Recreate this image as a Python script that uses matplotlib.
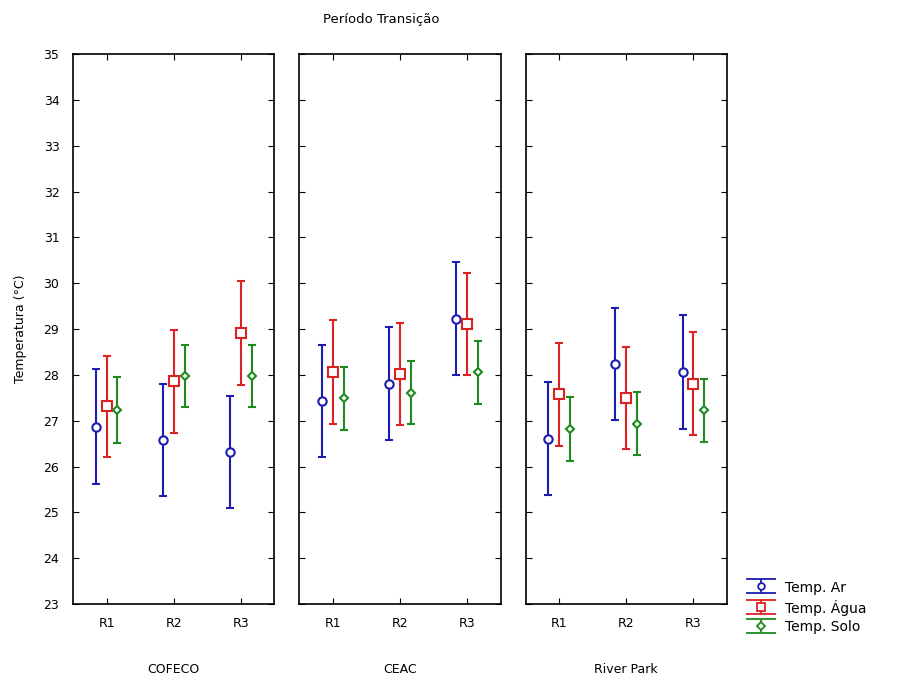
import numpy as np
import matplotlib.pyplot as plt

# dados
locais = ['COFECO', 'CEAC', 'River Park']
pontos = ['R1', 'R2', 'R3']

ar = [[26.87, 26.58, 26.32],
      [27.44, 27.81, 29.23],
      [26.61, 28.24, 28.07]]
ar_err = [[1.25, 1.23, 1.23],
          [1.22, 1.23, 1.24],
          [1.23, 1.23, 1.24]]

agua = [[27.32, 27.86, 28.91],
        [28.06, 28.02, 29.11],
        [27.58, 27.49, 27.81]]
agua_err = [[1.10, 1.13, 1.13],
            [1.13, 1.12, 1.12],
            [1.12, 1.11, 1.13]]

solo = [[27.23, 27.98, 27.98],
        [27.49, 27.61, 28.06],
        [26.82, 26.94, 27.23]]
solo_err = [[0.72, 0.68, 0.68],
            [0.69, 0.69, 0.69],
            [0.69, 0.69, 0.69]]

series = [
    ('Temp. Ar', ar, ar_err, '#1c1cb0', 'o', 6, -0.16),
    ('Temp. Água', agua, agua_err, '#dc2222', 's', 6.5, 0.0),
    ('Temp. Solo', solo, solo_err, '#1e8a1e', 'D', 4.5, 0.16),
]

fig, axes = plt.subplots(1, 3, figsize=(9.04, 6.75), dpi=100, sharey=True)
fig.subplots_adjust(left=0.081, right=0.804, bottom=0.105, top=0.92, wspace=0.124)

x = np.arange(len(pontos))
handles = []
for i, ax in enumerate(axes):
    for nome, vals, errs, cor, mk, ms, off in series:
        ax.errorbar(x + off, vals[i], yerr=errs[i], fmt=mk, color=cor,
                    mfc='white', mec=cor, mew=1.5, ms=ms, elinewidth=1.5,
                    capsize=3, capthick=1.2)
        if i == 0:
            # handle so para a legenda (tracos largos)
            h = ax.errorbar([np.nan], [np.nan], yerr=[1], fmt=mk, color=cor,
                            mfc='white', mec=cor, mew=1.3, ms=ms * 0.8,
                            elinewidth=1.3, capsize=11, capthick=1.3, label=nome)
            handles.append(h)
    ax.set_xlim(-0.5, 2.5)
    ax.set_ylim(23, 35)
    ax.set_yticks(range(23, 36))
    ax.set_xticks(x)
    ax.set_xticklabels(pontos)
    ax.set_xlabel(locais[i], fontsize=9, labelpad=24)
    ax.tick_params(direction='in', top=True, right=True, labelsize=9, length=4)
    ax.tick_params(axis='y', pad=10)
    ax.tick_params(axis='x', pad=9)
    for s in ax.spines.values():
        s.set_linewidth(1.2)

axes[0].set_ylabel('Temperatura (°C)', fontsize=9, labelpad=12)
fig.text(381 / 904, 1 - 20 / 675, 'Período Transição', ha='center', va='center', fontsize=9.5)

fig.legend(handles=handles, loc='lower left', bbox_to_anchor=(732 / 904, 1 - 647 / 675),
           frameon=False, fontsize=10, handlelength=2.4, labelspacing=0.35, handletextpad=0.5,
           handleheight=1.0)

plt.savefig('out.png', dpi=100)
